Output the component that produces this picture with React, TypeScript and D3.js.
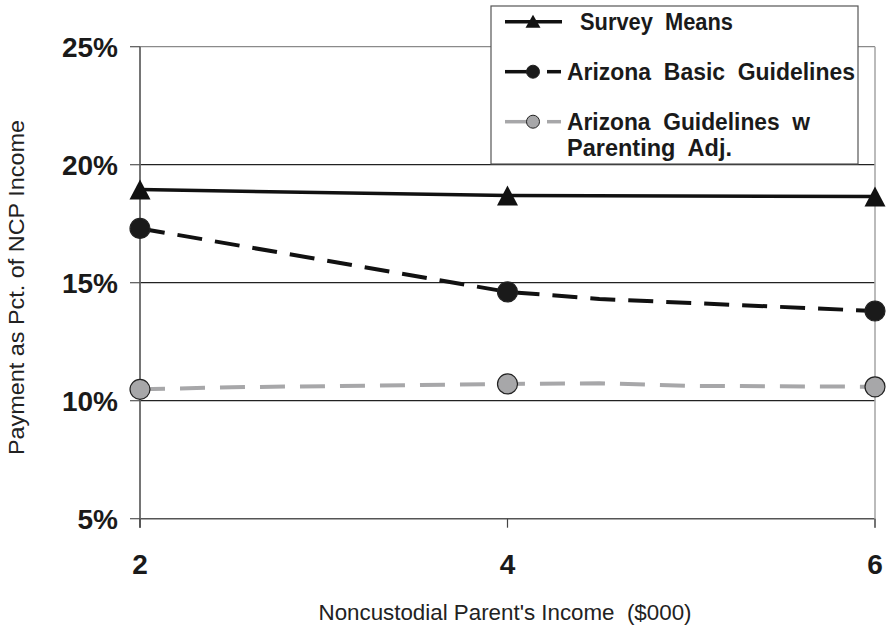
import React from 'react';
import * as d3 from 'd3';

// Canvas
const W = 888;
const H = 626;

// Axes
const incomeTicks = [2, 4, 6];
const pctTicks = [5, 10, 15, 20, 25];

// Series values (income in $000, payment as % of NCP income)
const surveyIncome = [2, 4, 6];
const surveyPct = [18.95, 18.69, 18.65];

const basicIncome = [2, 4, 4.5, 6];
const basicPct = [17.3, 14.61, 14.31, 13.8];

const adjIncome = [2, 2.5, 4, 4.5, 5, 6];
const adjPct = [10.48, 10.57, 10.71, 10.74, 10.63, 10.59];

// Legend text
const surveyLabel = ['Survey  Means'];
const basicLabel = ['Arizona  Basic  Guidelines'];
const adjLabel = ['Arizona  Guidelines  w', 'Parenting  Adj.'];

const xTitle = "Noncustodial Parent's Income  ($000)";
const yTitle = 'Payment as Pct. of NCP Income';

const FONT = "'Liberation Sans', Arial, Helvetica, sans-serif";

type Pt = { x: number; y: number };

const zip = (xs: number[], ys: number[]): Pt[] => xs.map((x, i) => ({ x, y: ys[i] }));

const series = [
  {
    key: 'survey',
    points: zip(surveyIncome, surveyPct),
    stroke: '#111',
    dash: undefined as string | undefined,
    marker: 'triangle',
    fill: '#111',
    label: surveyLabel,
  },
  {
    key: 'basic',
    points: zip(basicIncome, basicPct),
    stroke: '#111',
    dash: '25 13',
    marker: 'circle',
    fill: '#1a1a1a',
    label: basicLabel,
  },
  {
    key: 'adj',
    points: zip(adjIncome, adjPct),
    stroke: '#a7a7a9',
    dash: '25 15',
    marker: 'circle',
    fill: '#a7a7a9',
    label: adjLabel,
  },
];

const trianglePath = (cx: number, cy: number, hw: number, hh: number) =>
  `M${cx},${cy - hh}L${cx + hw},${cy + hh}L${cx - hw},${cy + hh}Z`;

export default function App() {
  const x = d3.scaleLinear().domain([2, 6]).range([140, 875]);
  const y = d3.scaleLinear().domain([5, 25]).range([518.7, 46.7]);

  const line = d3
    .line<Pt>()
    .x((d) => x(d.x))
    .y((d) => y(d.y));

  const isTick = (v: number) => incomeTicks.includes(v);

  // legend geometry
  const lg = { x0: 491, y0: 6, x1: 858, y1: 164 };
  const legendRows = [21.7, 71.7, 121.7];
  const textWidths = [[153], [288], [243, 165]];
  const textX = [580, 567, 567];

  return (
    <svg
      width={W}
      height={H}
      style={{ position: 'absolute', left: 0, top: 0, background: '#fff' }}
      fontFamily={FONT}
    >
      <rect width={W} height={H} fill="#fff" />

      {/* horizontal gridlines */}
      {pctTicks.map((t) => (
        <line
          key={`g${t}`}
          x1={x(2)}
          x2={x(6)}
          y1={y(t)}
          y2={y(t)}
          stroke={t === 25 ? '#8a8a8a' : t === 5 ? '#555' : '#222'}
          strokeWidth={t === 5 ? 1.6 : 1.2}
        />
      ))}

      {/* right frame */}
      <line x1={x(6)} x2={x(6)} y1={y(25)} y2={y(5) + 9} stroke="#aaa" strokeWidth={1.6} />

      {/* y axis */}
      <line x1={x(2)} x2={x(2)} y1={y(25)} y2={y(5) + 9} stroke="#666" strokeWidth={1.8} />
      {pctTicks.map((t) => (
        <g key={`yt${t}`}>
          <line x1={x(2) - 10} x2={x(2)} y1={y(t)} y2={y(t)} stroke="#555" strokeWidth={1.2} />
          <text
            x={118}
            y={y(t) + 10}
            textAnchor="end"
            fontSize={28}
            fontWeight="bold"
            fill="#1a1a1a"
          >
            {`${t}%`}
          </text>
        </g>
      ))}

      {/* x axis ticks */}
      {incomeTicks.map((t) => (
        <g key={`xt${t}`}>
          <line x1={x(t)} x2={x(t)} y1={y(5)} y2={y(5) + 9} stroke="#444" strokeWidth={1.2} />
          <text
            x={x(t)}
            y={574}
            textAnchor="middle"
            fontSize={28}
            fontWeight="bold"
            fill="#1a1a1a"
          >
            {t}
          </text>
        </g>
      ))}

      {/* axis titles */}
      <text
        x={505}
        y={620}
        textAnchor="middle"
        fontSize={22.5}
        fill="#222"
        textLength={373}
        lengthAdjust="spacingAndGlyphs"
        style={{ whiteSpace: 'pre' }}
      >
        {xTitle}
      </text>
      <text
        transform="translate(24,287.5) rotate(-90)"
        textAnchor="middle"
        fontSize={22}
        fill="#222"
        textLength={335}
        lengthAdjust="spacingAndGlyphs"
      >
        {yTitle}
      </text>

      {/* series lines */}
      {series.map((s) => (
        <path
          key={`l${s.key}`}
          d={line(s.points) ?? ''}
          fill="none"
          stroke={s.stroke}
          strokeWidth={s.key === 'survey' ? 3.5 : 4}
          strokeDasharray={s.dash}
        />
      ))}

      {/* markers */}
      {series.map((s) =>
        s.points
          .filter((p) => isTick(p.x))
          .map((p, i) =>
            s.marker === 'triangle' ? (
              <path
                key={`m${s.key}${i}`}
                d={trianglePath(x(p.x), y(p.y), 10.5, 10)}
                fill={s.fill}
              />
            ) : (
              <circle
                key={`m${s.key}${i}`}
                cx={x(p.x)}
                cy={y(p.y)}
                r={10}
                fill={s.fill}
                stroke="#222"
                strokeWidth={1.2}
              />
            )
          )
      )}

      {/* legend */}
      <rect
        x={lg.x0}
        y={lg.y0}
        width={lg.x1 - lg.x0}
        height={lg.y1 - lg.y0}
        fill="#fff"
        stroke="#555"
        strokeWidth={1.2}
      />
      {series.map((s, i) => {
        const cy = legendRows[i];
        return (
          <g key={`lg${s.key}`}>
            {s.dash ? (
              <>
                <line x1={505} x2={535} y1={cy} y2={cy} stroke={s.stroke} strokeWidth={3.5} />
                <line x1={547} x2={561} y1={cy} y2={cy} stroke={s.stroke} strokeWidth={3.5} />
              </>
            ) : (
              <line x1={505} x2={562} y1={cy} y2={cy} stroke={s.stroke} strokeWidth={3.5} />
            )}
            {s.marker === 'triangle' ? (
              <path d={trianglePath(533, cy - 0.5, 7.5, 6.5)} fill={s.fill} />
            ) : (
              <circle cx={533} cy={cy} r={6.5} fill={s.fill} stroke="#222" strokeWidth={1} />
            )}
            {s.label.map((txt, j) => (
              <text
                key={j}
                x={textX[i]}
                y={cy + 8 + j * 26}
                fontSize={23}
                fontWeight="bold"
                fill="#1a1a1a"
                textLength={textWidths[i][j]}
                lengthAdjust="spacingAndGlyphs"
                style={{ whiteSpace: 'pre' }}
              >
                {txt}
              </text>
            ))}
          </g>
        );
      })}
    </svg>
  );
}
